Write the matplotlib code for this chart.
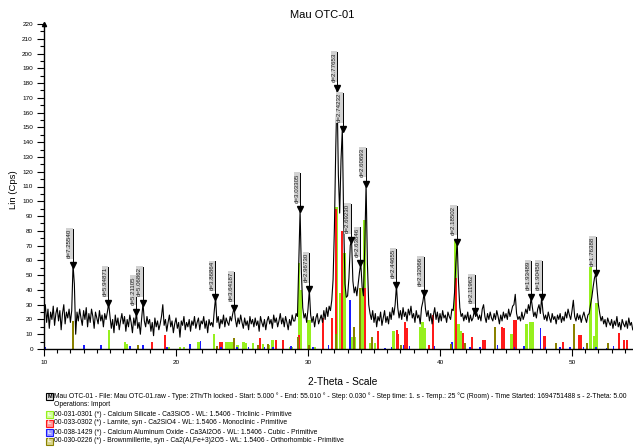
import numpy as np
import matplotlib.pyplot as plt
from matplotlib.patches import Rectangle
from matplotlib.ticker import MultipleLocator

plt.rcParams['font.family'] = ['Liberation Sans', 'DejaVu Sans']

WAVELENGTH = 1.5406  # Cu K-alpha, Angstrom

# measured scan, 0.1 deg steps from 10.0 deg
two_theta_start = 10.0
two_theta_step = 0.1
cps = [
    22, 30, 18, 27, 14, 25, 20, 29, 16, 24,   # 10
    28, 19, 26, 13, 24, 30, 17, 25, 21, 27,   # 11
    18, 26, 57, 44, 10, 25, 19, 27, 21, 16,   # 12
    26, 20, 28, 15, 24, 18, 27, 22, 14, 25,   # 13
    21, 17, 26, 19, 23, 15, 24, 20, 25, 31,   # 14
    22, 14, 20, 11, 23, 16, 21, 13, 19, 24,   # 15
    17, 22, 12, 20, 15, 23, 18, 11, 21, 16,   # 16
    25, 14, 18, 10, 21, 31, 19, 15, 22, 17,   # 17
    20, 12, 18, 9, 21, 15, 19, 13, 17, 22,    # 18
    30, 16, 20, 12, 18, 23, 15, 19, 11, 17,   # 19
    21, 14, 18, 8, 19, 16, 22, 13, 18, 15,    # 20
    20, 12, 19, 16, 22, 14, 18, 21, 13, 19,   # 21
    17, 22, 14, 19, 11, 20, 16, 18, 15, 26,   # 22
    35, 18, 22, 14, 20, 17, 23, 15, 21, 18,   # 23
    16, 22, 19, 24, 28, 20, 15, 21, 17, 23,   # 24
    18, 14, 21, 16, 19, 13, 22, 17, 20, 15,   # 25
    21, 16, 19, 12, 22, 18, 15, 20, 13, 19,   # 26
    22, 17, 20, 14, 23, 18, 21, 15, 19, 24,   # 27
    17, 21, 15, 22, 18, 13, 20, 16, 23, 19,   # 28
    19, 24, 22, 58, 94, 52, 28, 21, 24, 18,   # 29
    27, 40, 23, 18, 22, 15, 21, 24, 17, 20,   # 30
    23, 18, 26, 20, 28, 22, 29, 26, 33, 47,   # 31
    82, 135, 176, 118, 92, 128, 149, 88, 44, 35,  # 32
    36, 48, 70, 74, 46, 38, 42, 36, 44, 52,   # 33
    58, 42, 36, 70, 112, 58, 30, 24, 20, 26,  # 34
    18, 24, 15, 22, 19, 25, 16, 21, 26, 18,   # 35
    22, 17, 25, 20, 28, 23, 30, 43, 28, 21,   # 36
    26, 20, 28, 22, 25, 19, 27, 23, 29, 21,   # 37
    24, 18, 26, 21, 23, 17, 28, 32, 38, 27,   # 38
    22, 26, 19, 24, 17, 23, 28, 20, 25, 18,   # 39
    24, 19, 26, 21, 23, 18, 25, 22, 20, 27,   # 40
    26, 38, 58, 73, 45, 28, 22, 24, 19, 23,   # 41
    20, 25, 18, 23, 19, 21, 26, 22, 24, 20,   # 42
    23, 19, 27, 30, 22, 18, 24, 20, 25, 21,   # 43
    19, 24, 20, 26, 22, 17, 23, 19, 25, 21,   # 44
    24, 20, 27, 22, 25, 29, 30, 37, 24, 20,   # 45
    22, 19, 25, 20, 23, 27, 24, 30, 26, 35,   # 46
    28, 22, 25, 21, 27, 30, 24, 35, 25, 20,   # 47
    23, 19, 25, 21, 18, 24, 20, 22, 17, 23,   # 48
    20, 24, 18, 22, 19, 25, 21, 27, 23, 20,   # 49
    26, 33, 22, 19, 24, 20, 23, 18, 22, 25,   # 50
    21, 18, 23, 24, 30, 35, 42, 48, 51, 40,   # 51
    30, 24, 19, 22, 17, 20, 15, 21, 18, 16,   # 52
    20, 14, 19, 16, 22, 15, 18, 13, 20, 17,   # 53
    15, 19, 14, 21, 16, 18, 13,               # 54
]

# peak search results
peak_d = [7.25540, 5.94871, 5.21105, 5.06862, 3.86864, 3.64187, 3.03305,
          2.96730, 2.77653, 2.74232, 2.69230, 2.63846, 2.60693, 2.44655,
          2.32066, 2.18502, 2.11962, 1.93489, 1.90450, 1.76388]
peak_cps = [57, 31, 25, 31, 35, 28, 94.6, 40.6, 176.5, 149, 73.8, 58, 112,
            43.3, 38, 72.6, 25.7, 35.4, 35.4, 51.5]

# reference patterns (PDF sticks)
c3s_tt = [14.93, 16.14, 16.28, 19.42, 20.3, 20.6, 21.72, 22.88, 23.84, 24.0,
          24.18, 24.68, 25.12, 25.3, 25.84, 26.6, 27.05, 27.3, 28.66, 28.8,
          29.33, 29.47, 30.02, 30.12, 30.53, 32.17, 32.45, 32.75, 33.3, 33.5,
          34.09, 34.27, 34.7, 35.08, 36.5, 38.48, 38.69, 38.86, 41.15, 41.39,
          41.57, 45.43, 46.55, 46.82, 47.02, 51.38, 51.67, 51.87]
c3s_cps = [12.6, 4.5, 3.5, 1.5, 1.5, 1.5, 4.5, 10, 4.5, 4.5,
           4.5, 2.5, 4.5, 4, 4, 3.5, 2.5, 6, 1.5, 1.5,
           58, 40, 19.6, 19.6, 1.5, 96, 38, 65, 8, 8,
           41, 87, 4, 4, 12, 15, 18, 14, 74, 17,
           12, 10, 17, 18, 18, 60, 9, 31]

c2s_tt = [18.18, 19.18, 23.3, 23.52, 26.4, 27.6, 28.13, 29.3, 31.11, 31.8,
          32.1, 32.6, 34.34, 35.3, 36.72, 36.84, 37.35, 37.48, 39.14, 39.44,
          41.21, 41.72, 42.4, 43.23, 43.4, 44.7, 44.83, 45.58, 45.72, 47.85,
          47.97, 49.34, 50.5, 50.66, 53.58, 53.92, 54.18]
c2s_cps = [4.5, 9.5, 5, 5, 7.5, 6, 6, 9.5, 20.8, 20.8,
           95, 80, 41, 12, 13, 10, 18, 14, 3, 23,
           48, 11, 8, 6, 6, 15, 14, 19.6, 19.6, 9,
           9, 4.5, 9.5, 9.5, 10.5, 6, 6]

c3a_tt = [10.08, 13.05, 14.3, 16.5, 17.52, 19.34, 21.05, 21.85, 23.4, 24.6,
          25.5, 26.7, 27.37, 28.69, 30.4, 31.54, 33.18, 35.83, 36.34, 37.22,
          37.7, 39.57, 40.92, 42.27, 43.03, 44.37, 45.63, 46.38, 47.6, 48.0,
          49.09, 49.85, 50.86, 51.82, 52.63, 53.13]
c3a_cps = [1.6, 2.7, 2.7, 2, 2.5, 1.5, 3.5, 5.5, 1.5, 1.5,
           1.5, 1.5, 1.5, 2, 1.5, 3, 33, 1, 1.5, 3,
           2, 2, 5, 1.5, 1.5, 2.5, 1.5, 2, 14, 1.5,
           1.5, 1.5, 1.5, 1.5, 1, 2]

c4af_tt = [12.2, 17.12, 23.08, 24.42, 26.2, 27.0, 29.25, 30.08, 32.12, 33.48,
           33.96, 34.83, 37.05, 40.8, 41.9, 44.17, 48.79, 50.12, 51.16, 52.75]
c4af_cps = [19, 2.7, 2.2, 7.5, 2.5, 3.5, 8, 2.7, 10, 15,
            41, 8, 3, 3.5, 4, 15, 4, 17, 4, 4]

phase_colors = ['#96f01e', '#ff1a1a', '#1a1aff', '#8a8200']
phase_fills = ['#d2ff9a', '#ff9a9a', '#9a9aff', '#d8d48a']

header = ('Mau OTC-01 - File: Mau OTC-01.raw - Type: 2Th/Th locked - Start: 5.000 \u00b0 - '
          'End: 55.010 \u00b0 - Step: 0.030 \u00b0 - Step time: 1. s - Temp.: 25 \u00b0C (Room) - '
          'Time Started: 1694751488 s - 2-Theta: 5.00')
phase_names = [
    '00-031-0301 (*) - Calcium Silicate - Ca3SiO5 - WL: 1.5406 - Triclinic - Primitive',
    '00-033-0302 (*) - Larnite, syn - Ca2SiO4 - WL: 1.5406 - Monoclinic - Primitive',
    '00-038-1429 (*) - Calcium Aluminum Oxide - Ca3Al2O6 - WL: 1.5406 - Cubic - Primitive',
    '00-030-0226 (*) - Brownmillerite, syn - Ca2(Al,Fe+3)2O5 - WL: 1.5406 - Orthorhombic - Primitive',
]

W, H = 633, 447


def fx(px):
    return px / W


def fy(py):
    return 1 - py / H


fig = plt.figure(figsize=(W / 100, H / 100), dpi=100)
ax = fig.add_axes([fx(44), fy(349), fx(589), 325 / H])

# sticks of the reference cards
sticks = [(c3s_tt, c3s_cps, 0.2), (c2s_tt, c2s_cps, 0.15),
          (c3a_tt, c3a_cps, 0.12), (c4af_tt, c4af_cps, 0.15)]
for (tt, h, w), col in zip(sticks, phase_colors):
    ax.bar(tt, h, width=w, color=col, linewidth=0, zorder=2)

tt_scan = two_theta_start + two_theta_step * np.arange(len(cps))
ax.plot(tt_scan, cps, color='black', lw=0.8, zorder=3)

# peak markers with d-spacing labels
peak_tt = 2 * np.degrees(np.arcsin(WAVELENGTH / (2 * np.array(peak_d))))
stem = 24.4
for d, tt, h in zip(peak_d, peak_tt, peak_cps):
    ax.plot([tt, tt], [h, h + stem], color='black', lw=0.7, zorder=4)
    ax.plot(tt, h, marker='v', color='black', ms=3.8, zorder=5)
    ax.text(tt - 0.06, h + stem, 'd=%.5f' % d, rotation=90, ha='right', va='top',
            fontsize=4.4, color='#222222', zorder=4,
            bbox=dict(boxstyle='square,pad=0.12', fc='#d2d2d2', ec='none'))

ax.set_xlim(10, 54.62)
ax.set_ylim(0, 220)
for s in ['top', 'right']:
    ax.spines[s].set_visible(False)
for s in ['left', 'bottom']:
    ax.spines[s].set_linewidth(1.0)
ax.xaxis.set_major_locator(MultipleLocator(10))
ax.xaxis.set_minor_locator(MultipleLocator(1))
ax.yaxis.set_major_locator(MultipleLocator(10))
ax.yaxis.set_minor_locator(MultipleLocator(5))
ax.tick_params(which='major', direction='out', length=5, width=0.8, labelsize=4.6, pad=3)
ax.tick_params(which='minor', direction='out', length=3, width=0.8)
ax.plot(10, 220, marker='^', color='black', ms=3, clip_on=False, zorder=6)

fig.text(fx(322), fy(15), 'Mau OTC-01', ha='center', va='center', fontsize=8)
fig.text(fx(13), fy(190), 'Lin (Cps)', rotation=90, ha='center', va='center', fontsize=6.8)
fig.text(fx(343), fy(382), '2-Theta - Scale', ha='center', va='center', fontsize=7.3)

# legend block under the axis
legend_fs = 4.9
line_y = [396, 405, 414, 423, 432, 441]
fig.text(fx(54), fy(line_y[0]), header, ha='left', va='center', fontsize=legend_fs)
fig.text(fx(54), fy(line_y[1]), 'Operations: Import', ha='left', va='center', fontsize=legend_fs)
fig.add_artist(Rectangle((fx(46), fy(line_y[0] + 3.5)), fx(7), 7 / H, transform=fig.transFigure,
                         facecolor='#e0e0e0', edgecolor='black', lw=0.8))
fig.text(fx(49.5), fy(line_y[0]), 'M', ha='center', va='center', fontsize=4, fontweight='bold')
for name, col, fill, y in zip(phase_names, phase_colors, phase_fills, line_y[2:]):
    fig.add_artist(Rectangle((fx(46), fy(y + 3.5)), fx(7), 7 / H, transform=fig.transFigure,
                             facecolor=fill, edgecolor=col, lw=0.8))
    fig.text(fx(49.5), fy(y), 'L', ha='center', va='center', fontsize=4, color='white',
             fontweight='bold')
    fig.text(fx(54), fy(y), name, ha='left', va='center', fontsize=legend_fs)

fig.savefig('out.png', dpi=100)
